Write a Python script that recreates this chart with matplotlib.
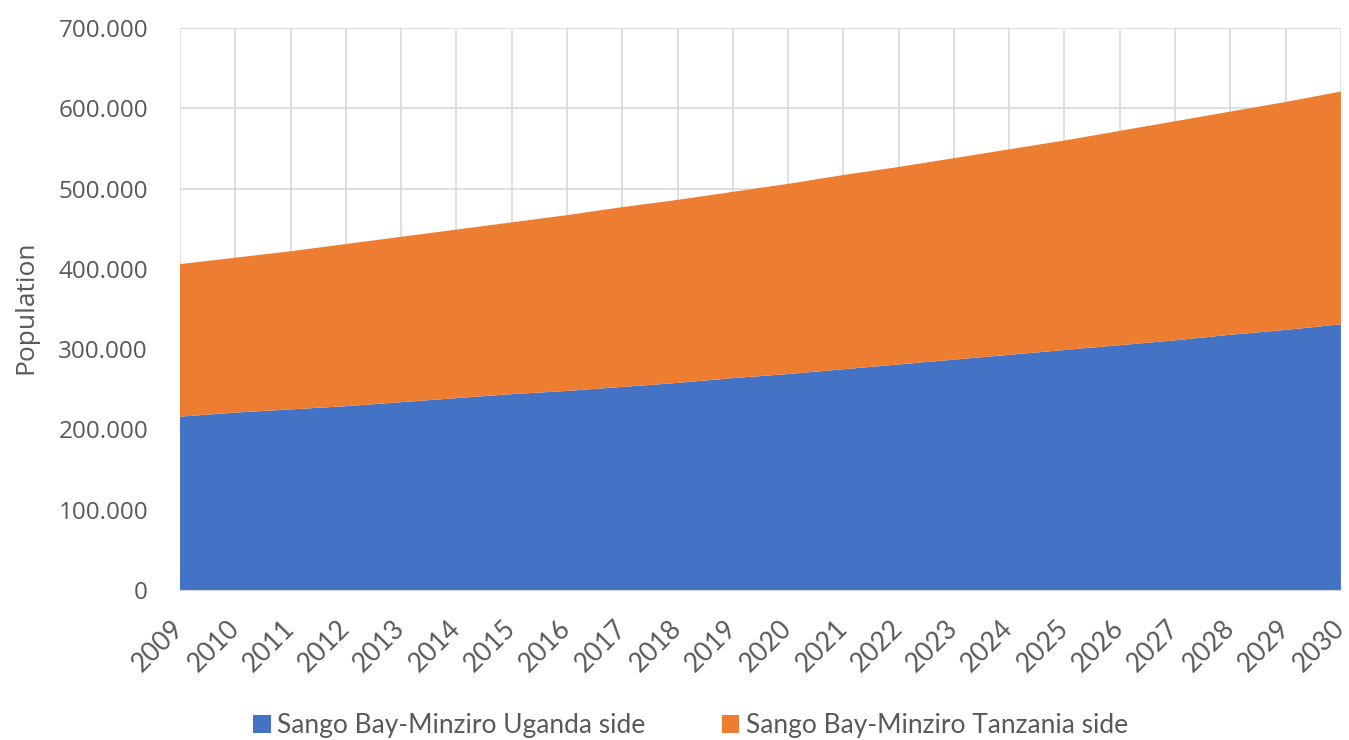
import matplotlib.pyplot as plt
import numpy as np
from matplotlib.ticker import FuncFormatter
from matplotlib.patches import Patch

plt.rcParams['font.family'] = ['Lato', 'DejaVu Sans']

years = list(range(2009, 2031))
uganda = [216000, 221000, 225000, 229000, 234000, 239000, 244000, 248000,
          253000, 258000, 264000, 269000, 275000, 281000, 287000, 293000,
          299000, 305000, 311000, 318000, 324000, 331000]
tanzania = [190000, 193000, 197000, 202000, 206000, 210000, 214000, 219000,
            224000, 228000, 232000, 237000, 242000, 246000, 251000, 256000,
            261000, 267000, 273000, 278000, 284000, 290000]
series_names = ['Sango Bay-Minziro Uganda side', 'Sango Bay-Minziro Tanzania side']
colors = ['#4472c4', '#ed7d31']
text_color = '#595959'

fig = plt.figure(figsize=(13.49, 7.40), dpi=100)
ax = fig.add_axes([0.1334, 0.2027, 0.8606, 0.7593])

ax.stackplot(years, uganda, tanzania, colors=colors, linewidth=0)

ax.set_xlim(years[0], years[-1])
ax.set_ylim(0, 700000)
ax.set_yticks(np.arange(0, 700001, 100000))
ax.yaxis.set_major_formatter(FuncFormatter(lambda v, _: f'{int(v):,}'.replace(',', '.')))
ax.set_xticks(years)
ax.set_xticklabels([str(y) for y in years], rotation=45, ha='right', va='center',
                   rotation_mode='anchor', fontsize=19)
for lbl in ax.get_yticklabels():
    lbl.set_family(['Open Sans', 'DejaVu Sans'])
    lbl.set_fontsize(17.5)

ax.grid(True, color='#d9d9d9', linewidth=1.2)
ax.set_axisbelow(True)
for side in ['top', 'right', 'left']:
    ax.spines[side].set_visible(False)
ax.spines['bottom'].set_color('#d9d9d9')
ax.tick_params(axis='both', length=0, colors=text_color)
ax.tick_params(axis='y', pad=23)
ax.tick_params(axis='x', pad=25)

ax.set_ylabel('Population', fontsize=19, color=text_color,
              family=['Open Sans', 'DejaVu Sans'])
ax.yaxis.set_label_coords(-0.122, 0.503)

handles = [Patch(facecolor=c, edgecolor='none') for c in colors]
fig.legend(handles, series_names, loc='center', bbox_to_anchor=(0.512, 0.019),
           ncol=2, frameon=False, fontsize=19, labelcolor=text_color,
           handlelength=0.65, handleheight=0.65, handletextpad=0.25, columnspacing=2.9)

fig.savefig('out.png', dpi=100)
